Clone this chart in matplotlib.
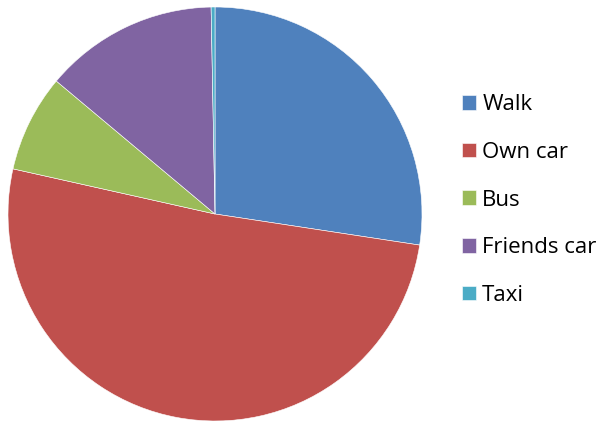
import matplotlib
matplotlib.use("Agg")
import matplotlib.pyplot as plt

labels = ["Walk", "Own car", "Bus", "Friends car", "Taxi"]
shares = [27.4, 51.1, 7.6, 13.6, 0.3]
colors = ["#4F81BD", "#C0504D", "#9BBB59", "#8064A2", "#4BACC6"]

plt.rcParams["font.family"] = ["Open Sans", "DejaVu Sans"]

fig = plt.figure(figsize=(6.05, 4.23), dpi=100)
ax = fig.add_axes([8 / 605, 2 / 423, 414 / 605, 414 / 423])

wedges, _ = ax.pie(shares, colors=colors, startangle=90, counterclock=False,
                   wedgeprops=dict(edgecolor="white", linewidth=0.4))
ax.set_xlim(-1, 1)
ax.set_ylim(-1, 1)
ax.set_aspect("equal")

# legend to the right, square colour keys
fig.legend(wedges, labels, loc="center left", bbox_to_anchor=(462 / 605, 1 - 200 / 423),
           frameon=False, fontsize=16, labelspacing=1.2, handlelength=0.63,
           handleheight=0.63, handletextpad=0.28, borderpad=0, borderaxespad=0)

fig.savefig("out.png", dpi=100)
